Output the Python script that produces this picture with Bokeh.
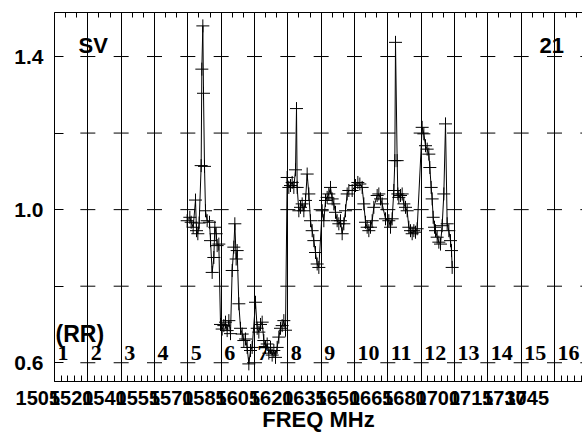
from bokeh.plotting import figure
from bokeh.models import (Range1d, FixedTicker, LinearAxis, LabelSet, Label,
                          ColumnDataSource, PrintfTickFormatter, Grid)
from bokeh.embed import file_html
from bokeh.resources import INLINE

FONT = "Liberation Sans"

# channel boundaries (in channel units) and channel numbers
channels = list(range(1, 17))
boundaries = list(range(1, 17))
levels = [0.6, 0.8, 1.0, 1.2, 1.4]

# x-axis tick labels (MHz), one per channel
freq_labels = ["1505", "1520", "1540", "1555", "1570", "1585", "1605", "1620",
               "1635", "1650", "1665", "1680", "1700", "1715", "1730", "1745"]

# measured spectrum: position (channel units) and ratio
pos = [3.98, 4.06, 4.10, 4.16, 4.23, 4.26, 4.30, 4.34, 4.40, 4.42, 4.45, 4.47, 4.50, 4.53,
       4.58, 4.65, 4.68, 4.73, 4.78, 4.81, 4.85, 4.88, 4.93,
       4.98, 5.03, 5.08, 5.13, 5.18, 5.23, 5.28, 5.33, 5.38, 5.41, 5.45, 5.48, 5.53, 5.58,
       5.63, 5.68, 5.73, 5.78, 5.83, 5.88, 5.93,
       6.03, 6.08, 6.13, 6.18, 6.23, 6.28, 6.33, 6.38, 6.43, 6.48, 6.53, 6.58, 6.63, 6.68,
       6.73, 6.78, 6.83, 6.88, 6.93,
       6.98, 7.03, 7.08, 7.13, 7.18, 7.23, 7.26, 7.28, 7.33, 7.38, 7.43, 7.48, 7.53, 7.58,
       7.63, 7.68, 7.73, 7.78, 7.83, 7.88, 7.93,
       8.03, 8.08, 8.13, 8.18, 8.23, 8.28, 8.33, 8.38, 8.43, 8.48, 8.53, 8.58, 8.63, 8.68,
       8.73, 8.78, 8.83, 8.93,
       9.03, 9.10, 9.16, 9.23, 9.28, 9.33, 9.38, 9.43, 9.48, 9.53, 9.58, 9.68, 9.73, 9.78,
       9.83, 9.93,
       10.03, 10.08, 10.13, 10.18, 10.21, 10.23, 10.28, 10.30, 10.33, 10.38, 10.43, 10.48,
       10.53, 10.58, 10.63, 10.68, 10.73, 10.78, 10.83, 10.88,
       11.03, 11.08, 11.13, 11.18, 11.23, 11.26, 11.30, 11.33, 11.36, 11.40, 11.43, 11.48,
       11.53, 11.58, 11.63, 11.68, 11.73, 11.78, 11.83, 11.88, 11.91, 11.93]
ratio = [0.971, 0.980, 0.967, 0.954, 1.025, 0.945, 0.937, 0.965, 1.115, 1.367, 1.480, 1.304, 1.113, 0.997,
         0.971, 0.967, 0.919, 0.836, 0.875, 0.954, 0.937, 0.906, 0.910,
         0.700, 0.688, 0.697, 0.706, 0.684, 0.710, 0.676, 0.841, 0.902, 0.963, 0.871, 0.893, 0.754, 0.690,
         0.675, 0.658, 0.662, 0.640, 0.597, 0.632, 0.640,
         0.758, 0.690, 0.680, 0.700, 0.706, 0.658, 0.640, 0.649, 0.625, 0.640, 0.620, 0.632, 0.614, 0.640,
         0.667, 0.690, 0.697, 0.710, 0.685,
         1.084, 1.058, 1.063, 1.071, 1.058, 1.104, 1.264, 1.058, 0.997, 1.006, 1.015, 0.997, 1.024, 1.093,
         1.041, 0.971, 0.945, 0.919, 0.888, 0.858, 0.849,
         0.997, 0.971, 1.024, 1.032, 1.041, 1.058, 1.028, 1.015, 0.993, 0.971, 0.963, 0.971, 0.937, 0.963,
         0.997, 1.041, 1.050, 1.050,
         1.063, 1.071, 1.067, 1.058, 1.015, 0.967, 0.954, 0.945, 0.954, 0.971, 1.006, 1.037, 1.041, 1.028,
         1.015, 0.976,
         0.971, 0.954, 0.976, 1.050, 1.128, 1.437, 1.128, 1.041, 1.032, 1.037, 1.041, 1.015,
         1.006, 0.997, 0.954, 0.945, 0.937, 0.945, 0.941, 0.950,
         1.215, 1.198, 1.167, 1.158, 1.145, 1.110, 1.058, 1.028, 0.980, 0.954, 0.945, 0.928,
         0.915, 0.910, 0.958, 1.041, 1.224, 0.963, 0.945, 0.919, 0.893, 0.849]

p = figure(width=582, height=434, output_backend="svg", toolbar_location=None,
           x_range=Range1d(0, 15.84), y_range=Range1d(0.551, 1.515),
           x_axis_location=None, y_axis_location=None,
           min_border_left=54, min_border_right=0, min_border_top=12, min_border_bottom=53)
p.outline_line_color = None
p.xgrid.visible = False
p.ygrid.visible = False

# vertical channel boundary lines
p.add_layout(Grid(dimension=0, ticker=FixedTicker(ticks=boundaries),
                  grid_line_color="black", grid_line_width=1))

# axes
yaxis = LinearAxis(ticker=FixedTicker(ticks=[0.6, 1.0, 1.4], minor_ticks=[0.8, 1.2]),
                   formatter=PrintfTickFormatter(format="%.1f"),
                   major_tick_in=9, major_tick_out=0, minor_tick_in=9, minor_tick_out=0,
                   axis_line_color="black", major_tick_line_color="black",
                   minor_tick_line_color="black",
                   major_label_text_font=FONT, major_label_text_font_style="bold",
                   major_label_text_font_size="21px", major_label_text_color="black",
                   major_label_standoff=11)
p.add_layout(yaxis, "left")

# bottom axis: labels sit half a channel left of each boundary (padded with figure spaces)
label_ticks = list(range(len(freq_labels)))
bottom_minor = [i / 5 for i in range(0, 16 * 5)]
xaxis = LinearAxis(ticker=FixedTicker(ticks=label_ticks, minor_ticks=bottom_minor),
                   major_label_overrides={k: freq_labels[k] + "\u2007\u2007\u2007"
                                          for k in label_ticks},
                   minor_tick_in=6, minor_tick_out=0, major_tick_in=6, major_tick_out=0,
                   axis_line_color="black", minor_tick_line_color="black",
                   major_tick_line_color="black",
                   major_label_text_font=FONT, major_label_text_font_style="bold",
                   major_label_text_font_size="20px", major_label_text_color="black",
                   major_label_text_line_height=1.0,
                   major_label_standoff=5,
                   axis_label="FREQ MHz", axis_label_text_font=FONT,
                   axis_label_text_font_style="bold", axis_label_text_font_size="22px",
                   axis_label_text_color="black", axis_label_text_line_height=1.0,
                   axis_label_standoff=-5)
p.add_layout(xaxis, "below")

top_minor = [i / 3 for i in range(0, 16 * 3)]
taxis = LinearAxis(ticker=FixedTicker(ticks=[], minor_ticks=top_minor),
                   minor_tick_in=5, minor_tick_out=0, major_tick_in=0, major_tick_out=0,
                   axis_line_color="black", minor_tick_line_color="black",
                   major_label_text_font_size="0px")
p.add_layout(taxis, "above")

# short horizontal dashes at each boundary/level crossing
dash_x = [b for b in boundaries for _ in levels]
dash_y = [lv for _ in boundaries for lv in levels]
p.scatter(dash_x, dash_y, marker="dash", size=15, line_color="black", line_width=1)

# data
p.line(pos, ratio, line_color="black", line_width=1)
p.scatter(pos, ratio, marker="cross", size=13, line_color="black", line_width=1)

# channel numbers
num_src = ColumnDataSource(dict(x=[c - 1 for c in channels], y=[0.606] * len(channels),
                                t=[str(c) for c in channels]))
p.add_layout(LabelSet(x="x", y="y", text="t", source=num_src, x_offset=3,
                      text_font=FONT, text_font_style="bold", text_font_size="22px",
                      text_color="black", text_align="left", text_baseline="alphabetic"))

p.add_layout(Label(x=0.03, y=0.676, text="(RR)", text_font=FONT, text_font_style="bold",
                   text_font_size="23px", text_color="black",
                   text_align="left", text_baseline="alphabetic"))
p.add_layout(Label(x=0.72, y=1.428, text="SV", text_font=FONT, text_font_style="bold",
                   text_font_size="22px", text_color="black",
                   text_align="left", text_baseline="alphabetic"))
p.add_layout(Label(x=14.55, y=1.428, text="21", text_font=FONT, text_font_style="bold",
                   text_font_size="22px", text_color="black",
                   text_align="left", text_baseline="alphabetic"))

open("out.html", "w").write(file_html(p, INLINE))
